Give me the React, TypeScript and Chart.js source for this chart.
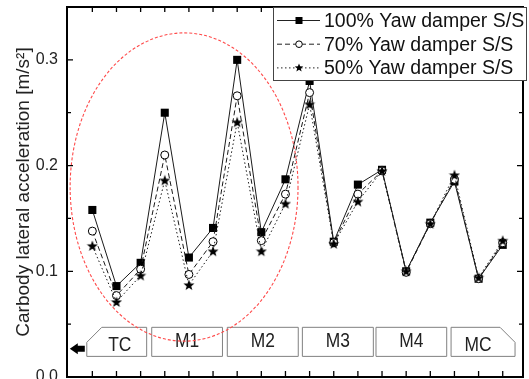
import React, { useEffect, useRef } from "react";
import { Chart, registerables } from "chart.js";

Chart.register(...registerables);

// ---- data ----
const positions = [1, 2, 3, 4, 5, 6, 7, 8, 9, 10, 11, 12, 13, 14, 15, 16, 17, 18];
const series100 = [0.158, 0.086, 0.108, 0.25, 0.113, 0.141, 0.3, 0.137, 0.187, 0.28, 0.128, 0.182, 0.196, 0.1, 0.146, 0.185, 0.093, 0.125];
const series70 = [0.138, 0.077, 0.102, 0.21, 0.097, 0.128, 0.266, 0.129, 0.173, 0.269, 0.127, 0.173, 0.195, 0.099, 0.145, 0.187, 0.093, 0.127];
const series50 = [0.124, 0.071, 0.096, 0.186, 0.087, 0.119, 0.241, 0.119, 0.164, 0.258, 0.126, 0.166, 0.195, 0.1, 0.145, 0.191, 0.094, 0.129];
const seriesLabels = ["100% Yaw damper S/S", "70% Yaw damper S/S", "50% Yaw damper S/S"];
const groupLabels = ["TC", "M1", "M2", "M3", "M4", "MC"];
const yTickValues = [0, 0.1, 0.2, 0.3];
const yMinorTickValues = [0.05, 0.15, 0.25];
const yAxisTitle = "Carbody lateral acceleration [m/s\u00B2]";

// ---- annotation geometry (in data units) ----
const groupStart = [0.77, 3.46, 6.59, 9.7, 12.75, 15.86];
const groupEnd = [3.25, 6.39, 9.53, 12.64, 15.68, 18.51];
const boxTop = 0.047;
const boxBottom = 0.0195;
const ellipse = { cx: 4.8, cy: 0.1797, rx: 4.72, ry: 0.1458 };

const FONT = "'Liberation Sans', Arial, sans-serif";

function starPath(ctx: CanvasRenderingContext2D, cx: number, cy: number, R: number, r: number) {
  ctx.beginPath();
  for (let i = 0; i < 10; i++) {
    const ang = -Math.PI / 2 + (i * Math.PI) / 5;
    const rad = i % 2 === 0 ? R : r;
    const px = cx + Math.cos(ang) * rad;
    const py = cy + Math.sin(ang) * rad;
    if (i === 0) ctx.moveTo(px, py);
    else ctx.lineTo(px, py);
  }
  ctx.closePath();
}

const decorPlugin = {
  id: "decor",
  beforeDatasetsDraw(chart: any) {
    const { ctx, scales } = chart;
    const x = scales.x, y = scales.y;
    ctx.save();
    const t = y.getPixelForValue(boxTop);
    const b = y.getPixelForValue(boxBottom);
    ctx.strokeStyle = "#808080";
    ctx.lineWidth = 1;
    groupLabels.forEach((lab, i) => {
      const l = x.getPixelForValue(groupStart[i]);
      const r = x.getPixelForValue(groupEnd[i]);
      const ch = 15;
      ctx.beginPath();
      if (i === 0) {
        ctx.moveTo(l, t + ch);
        ctx.lineTo(l + ch, t);
        ctx.lineTo(r, t);
        ctx.lineTo(r, b);
        ctx.lineTo(l, b);
      } else if (i === groupLabels.length - 1) {
        ctx.moveTo(l, t);
        ctx.lineTo(r - ch, t);
        ctx.lineTo(r, t + ch);
        ctx.lineTo(r, b);
        ctx.lineTo(l, b);
      } else {
        ctx.moveTo(l, t);
        ctx.lineTo(r, t);
        ctx.lineTo(r, b);
        ctx.lineTo(l, b);
      }
      ctx.closePath();
      ctx.stroke();
      let cx = (l + r) / 2;
      let cy = (t + b) / 2;
      if (i === 0) { cx += 3; cy += 4; }
      if (i === groupLabels.length - 1) { cx -= 5; cy += 4; }
      ctx.save();
      ctx.translate(cx, cy);
      ctx.scale(0.87, 1);
      ctx.fillStyle = "#222";
      ctx.font = `20px ${FONT}`;
      ctx.textAlign = "center";
      ctx.textBaseline = "middle";
      ctx.fillText(lab, 0, 0);
      ctx.restore();
      if (i === 0) {
        const ay = (t + b) / 2 + 7;
        const ar = l - 2;
        ctx.fillStyle = "#000";
        ctx.beginPath();
        ctx.moveTo(ar - 15, ay);
        ctx.lineTo(ar - 7, ay - 5.5);
        ctx.lineTo(ar - 7, ay - 3);
        ctx.lineTo(ar, ay - 3);
        ctx.lineTo(ar, ay + 3);
        ctx.lineTo(ar - 7, ay + 3);
        ctx.lineTo(ar - 7, ay + 5.5);
        ctx.closePath();
        ctx.fill();
      }
    });
    const ex = x.getPixelForValue(ellipse.cx);
    const ey = y.getPixelForValue(ellipse.cy);
    const erx = Math.abs(x.getPixelForValue(ellipse.cx + ellipse.rx) - ex);
    const ery = Math.abs(y.getPixelForValue(ellipse.cy + ellipse.ry) - ey);
    ctx.strokeStyle = "#ff4a4a";
    ctx.lineWidth = 1.1;
    ctx.setLineDash([3, 2]);
    ctx.beginPath();
    ctx.ellipse(ex, ey, erx, ery, 0, 0, Math.PI * 2);
    ctx.stroke();
    ctx.restore();
  },
  afterDraw(chart: any) {
    const { ctx, chartArea, scales } = chart;
    const x = scales.x, y = scales.y;
    const { left, right, top, bottom } = chartArea;
    ctx.save();
    ctx.strokeStyle = "#000";
    ctx.lineWidth = 1.3;
    ctx.beginPath();
    yTickValues.forEach((v) => {
      const py = y.getPixelForValue(v);
      ctx.moveTo(left, py); ctx.lineTo(left + 6, py);
      ctx.moveTo(right, py); ctx.lineTo(right - 6, py);
    });
    yMinorTickValues.forEach((v) => {
      const py = y.getPixelForValue(v);
      ctx.moveTo(left, py); ctx.lineTo(left + 4, py);
      ctx.moveTo(right, py); ctx.lineTo(right - 4, py);
    });
    positions.forEach((p) => {
      const px = x.getPixelForValue(p);
      ctx.moveTo(px, bottom); ctx.lineTo(px, bottom - 6);
      ctx.moveTo(px, top); ctx.lineTo(px, top + 5);
    });
    ctx.stroke();
    ctx.lineWidth = 2;
    ctx.strokeStyle = "#000";
    ctx.strokeRect(left, top, right - left, bottom - top);

    // legend
    const lx = 273.5, ly = 7.5, lw = 253, lh = 73;
    ctx.fillStyle = "#fff";
    ctx.fillRect(lx, ly, lw, lh);
    ctx.lineWidth = 1;
    ctx.strokeStyle = "#444";
    ctx.strokeRect(lx, ly, lw, lh);
    const dashes = [[], [5, 3], [1.5, 2.5]];
    chart.data.datasets.forEach((ds: any, i: number) => {
      const ry = 20.5 + i * 23.7;
      ctx.strokeStyle = "#222";
      ctx.lineWidth = 1;
      ctx.setLineDash(dashes[i]);
      ctx.beginPath();
      ctx.moveTo(277, ry);
      ctx.lineTo(320, ry);
      ctx.stroke();
      ctx.setLineDash([]);
      const mx = 299;
      if (i === 0) {
        ctx.fillStyle = "#000";
        ctx.fillRect(mx - 3.5, ry - 3.5, 7, 7);
      } else if (i === 1) {
        ctx.fillStyle = "#fff";
        ctx.beginPath();
        ctx.arc(mx, ry, 3.3, 0, Math.PI * 2);
        ctx.fill();
        ctx.strokeStyle = "#000";
        ctx.stroke();
      } else {
        ctx.fillStyle = "#000";
        starPath(ctx, mx, ry, 4.5, 1.9);
        ctx.fill();
      }
      ctx.fillStyle = "#111";
      ctx.font = `19.5px ${FONT}`;
      ctx.textAlign = "left";
      ctx.textBaseline = "middle";
      ctx.fillText(ds.label, 324, ry + 1);
    });
    ctx.restore();
  },
};

export default function App() {
  const canvasRef = useRef<HTMLCanvasElement | null>(null);

  useEffect(() => {
    const canvas = canvasRef.current;
    if (!canvas) return;
    const star = document.createElement("canvas");
    star.width = 12;
    star.height = 12;
    const sctx = star.getContext("2d")!;
    sctx.fillStyle = "#000";
    starPath(sctx, 6, 6.4, 5.8, 2.4);
    sctx.fill();

    const toPts = (arr: number[]) => positions.map((p, i) => ({ x: p, y: arr[i] }));

    const chart = new Chart(canvas, {
      type: "line",
      data: {
        datasets: [
          {
            label: seriesLabels[0],
            data: toPts(series100),
            borderColor: "#1a1a1a",
            borderWidth: 1,
            pointStyle: "rect",
            pointRadius: 5.7,
            pointBackgroundColor: "#000",
            pointBorderColor: "#000",
            pointBorderWidth: 0,
            tension: 0,
            order: 3,
          },
          {
            label: seriesLabels[1],
            data: toPts(series70),
            borderColor: "#1a1a1a",
            borderWidth: 1,
            borderDash: [5, 3],
            pointStyle: "circle",
            pointRadius: 4,
            pointBackgroundColor: "#fff",
            pointBorderColor: "#000",
            pointBorderWidth: 1,
            tension: 0,
            order: 2,
          },
          {
            label: seriesLabels[2],
            data: toPts(series50),
            borderColor: "#1a1a1a",
            borderWidth: 1,
            borderDash: [1.5, 2.5],
            pointStyle: star as any,
            pointRadius: 6,
            pointBackgroundColor: "#000",
            pointBorderColor: "#000",
            tension: 0,
            order: 1,
          },
        ],
      },
      options: {
        responsive: false,
        animation: false,
        devicePixelRatio: 1,
        events: [],
        layout: { autoPadding: false, padding: { left: 0, top: 7, right: 6, bottom: 2 } },
        plugins: { legend: { display: false }, tooltip: { enabled: false } },
        scales: {
          x: {
            type: "linear",
            min: -0.05,
            max: 18.84,
            display: false,
          },
          y: {
            type: "linear",
            min: 0,
            max: 0.35,
            grid: { display: false, drawTicks: false },
            border: { display: false },
            afterFit: (scale: any) => {
              scale.width = 67;
              scale.paddingTop = 0;
              scale.paddingBottom = 0;
            },
            afterBuildTicks: (scale: any) => {
              scale.ticks = yTickValues.map((v) => ({ value: v }));
            },
            ticks: {
              padding: 9,
              color: "#222",
              font: { family: FONT, size: 16 },
              callback: (v: any) => Number(v).toFixed(1),
            },
            title: {
              display: true,
              text: yAxisTitle,
              color: "#222",
              font: { family: FONT, size: 19 },
              padding: { top: 12, bottom: 0 },
            },
          },
        },
      },
      plugins: [decorPlugin],
    });
    return () => chart.destroy();
  }, []);

  return (
    <div style={{ position: "fixed", left: 0, top: 0, width: 529, height: 379, background: "#fff" }}>
      <canvas ref={canvasRef} width={529} height={379} style={{ display: "block" }} />
    </div>
  );
}
